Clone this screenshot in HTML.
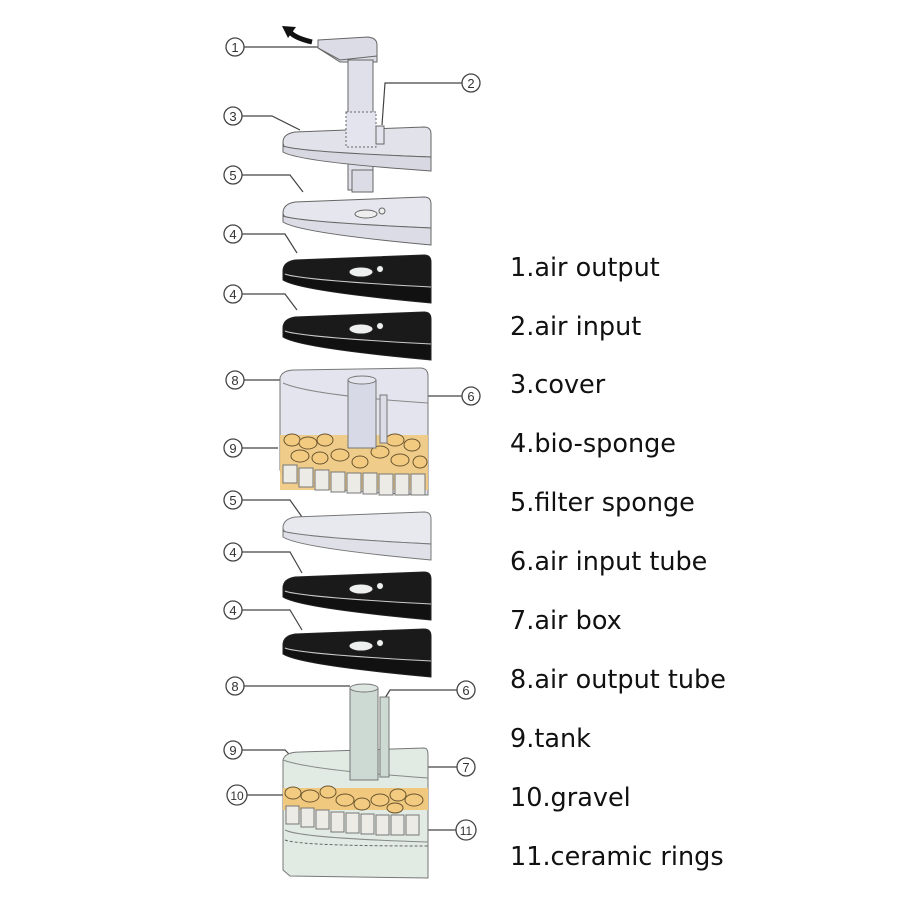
<!DOCTYPE html>
<html><head><style>
html,body{margin:0;padding:0;background:#fff;}
svg{display:block}
.lt{font-family:"DejaVu Sans","Liberation Sans",sans-serif;font-size:25.5px;fill:#111;}
.cn{font-family:"Liberation Sans",sans-serif;font-size:13px;fill:#333;text-anchor:middle;}
</style></head><body>
<svg width="900" height="900" viewBox="0 0 900 900" xmlns="http://www.w3.org/2000/svg">
<rect width="900" height="900" fill="#fff"/>

<g stroke="#444" stroke-width="1.2" fill="none">
<path d="M244,47 L330,47 L335,52"/>
<path d="M462,83 L385,83 L382,125"/>
<path d="M242,116 L272,116 L300,130"/>
<path d="M242,175 L290,175 L303,192"/>
<path d="M242,234 L285,234 L297,253"/>
<path d="M242,294 L285,294 L297,310"/>
<path d="M244,380 L352,380"/>
<path d="M462,396 L385,396"/>
<path d="M242,448 L278,448"/>
<path d="M242,500 L290,500 L302,517"/>
<path d="M242,552 L290,552 L302,573"/>
<path d="M242,610 L290,610 L302,630"/>
<path d="M244,686 L350,686"/>
<path d="M457,690 L390,690 L385,698"/>
<path d="M242,750 L285,750 L290,755"/>
<path d="M457,767 L400,767 L385,780"/>
<path d="M246,795 L290,795"/>
<path d="M457,830 L428,830"/>
</g>
<g fill="#fff" stroke="#444" stroke-width="1.3">
<circle cx="235" cy="47" r="9"/><circle cx="471" cy="83" r="9"/>
<circle cx="233" cy="116" r="9"/><circle cx="233" cy="175" r="9"/>
<circle cx="233" cy="234" r="9"/><circle cx="233" cy="294" r="9"/>
<circle cx="235" cy="380" r="9"/><circle cx="471" cy="396" r="9"/>
<circle cx="233" cy="448" r="9"/><circle cx="233" cy="500" r="9"/>
<circle cx="233" cy="552" r="9"/><circle cx="233" cy="610" r="9"/>
<circle cx="235" cy="686" r="9"/><circle cx="466" cy="690" r="9"/>
<circle cx="233" cy="750" r="9"/><circle cx="466" cy="767" r="9"/>
<circle cx="237" cy="795" r="10"/><circle cx="466" cy="830" r="10"/>
</g>
<g class="cn">
<text x="235" y="52">1</text><text x="471" y="88">2</text>
<text x="233" y="121">3</text><text x="233" y="180">5</text>
<text x="233" y="239">4</text><text x="233" y="299">4</text>
<text x="235" y="385">8</text><text x="471" y="401">6</text>
<text x="233" y="453">9</text><text x="233" y="505">5</text>
<text x="233" y="557">4</text><text x="233" y="615">4</text>
<text x="235" y="691">8</text><text x="466" y="695">6</text>
<text x="233" y="755">9</text><text x="466" y="772">7</text>
<text x="237" y="800" font-size="12">10</text><text x="466" y="835" font-size="12">11</text>
</g>

<path d="M312,42 Q295,38 290,32" stroke="#111" stroke-width="5" fill="none"/>
<path d="M282,26 L296,27 L288,38 Z" fill="#111"/>
<path d="M318,40 L368,37 Q377,38 377,45 L377,62 L340,62 L318,48 Z" fill="#dcdce6" stroke="#666"/>
<path d="M318,48 L340,60 L377,56" stroke="#666" fill="none"/>
<rect x="348" y="60" width="25" height="130" fill="#e0e0ea" stroke="#666"/>
<path d="M283,142 Q283,134 295,132 L424,127 Q431,127 431,134 L431,157 Q300,152 290,150 Q283,148 283,142 Z" fill="#e2e2ea" stroke="#666"/>
<path d="M283,142 L283,152 Q300,162 431,171 L431,157 Q300,152 283,146" fill="#d8d8e2" stroke="#666"/>
<rect x="346" y="112" width="30" height="35" fill="#e4e4ee" stroke="#666" stroke-dasharray="2,2"/>
<rect x="376" y="126" width="8" height="18" fill="#e4e4ee" stroke="#666"/>
<rect x="352" y="170" width="21" height="22" fill="#dcdce6" stroke="#666"/>

<g stroke="#666">
<path d="M283,213 Q283,204 295,202 L424,197 Q431,197 431,204 L431,228 Q300,222 290,219 Q283,217 283,213 Z" fill="#e6e6ee"/>
<path d="M283,213 L283,222 Q300,233 431,245 L431,228 Q300,222 283,216" fill="#dcdce6"/>
<ellipse cx="366" cy="214" rx="11" ry="4" fill="#eee"/><circle cx="382" cy="211" r="3" fill="#eee"/>
</g>
<g stroke="#222">
<path d="M283,271 Q283,262 295,260 L424,255 Q431,255 431,262 L431,287 Q300,280 290,277 Q283,275 283,271 Z" fill="#1a1a1a"/>
<path d="M283,271 L283,280 Q300,291 431,303 L431,287 Q300,280 283,274" fill="#111"/>
<path d="M285,274 Q300,280 431,287" stroke="#ccc" fill="none"/>
<ellipse cx="361" cy="272" rx="12" ry="5" fill="#eef0f0"/><circle cx="380" cy="269" r="3.5" fill="#eef0f0"/>
<path d="M283,328 Q283,319 295,317 L424,312 Q431,312 431,319 L431,344 Q300,337 290,334 Q283,332 283,328 Z" fill="#1a1a1a"/>
<path d="M283,328 L283,337 Q300,348 431,360 L431,344 Q300,337 283,331" fill="#111"/>
<path d="M285,331 Q300,337 431,344" stroke="#ccc" fill="none"/>
<ellipse cx="361" cy="329" rx="12" ry="5" fill="#eef0f0"/><circle cx="380" cy="326" r="3.5" fill="#eef0f0"/>
</g>

<path d="M280,378 Q282,370 295,370 L420,368 Q428,368 428,376 L428,495 Q300,490 285,480 L280,470 Z" fill="#e4e4ee" stroke="#777"/>
<path d="M283,383 Q310,395 428,403" stroke="#888" fill="none"/>
<rect x="280" y="435" width="148" height="55" fill="#f0c97e" opacity="0.9"/>
<g fill="#f3cb80" stroke="#6b5530">
<ellipse cx="292" cy="440" rx="8" ry="6"/><ellipse cx="308" cy="443" rx="9" ry="6"/><ellipse cx="325" cy="440" rx="8" ry="6"/>
<ellipse cx="340" cy="455" rx="9" ry="6"/><ellipse cx="300" cy="456" rx="9" ry="6"/><ellipse cx="320" cy="458" rx="8" ry="6"/>
<ellipse cx="395" cy="440" rx="9" ry="6"/><ellipse cx="412" cy="445" rx="8" ry="6"/><ellipse cx="380" cy="452" rx="9" ry="6"/>
<ellipse cx="360" cy="462" rx="8" ry="6"/><ellipse cx="400" cy="460" rx="9" ry="6"/><ellipse cx="420" cy="462" rx="7" ry="6"/>
</g>
<g fill="#ecebe6" stroke="#777">
<rect x="283" y="465" width="14" height="18"/><rect x="299" y="468" width="14" height="19"/><rect x="315" y="470" width="14" height="20"/>
<rect x="331" y="472" width="14" height="20"/><rect x="347" y="473" width="14" height="20"/><rect x="363" y="473" width="14" height="21"/>
<rect x="379" y="474" width="14" height="21"/><rect x="395" y="474" width="14" height="21"/><rect x="411" y="474" width="14" height="21"/>
</g>
<rect x="348" y="380" width="28" height="68" fill="#d7d9e6" stroke="#777"/>
<ellipse cx="362" cy="380" rx="14" ry="4" fill="#e4e4ee" stroke="#777"/>
<rect x="380" y="395" width="7" height="48" fill="#dcdce6" stroke="#777"/>

<g stroke="#777">
<path d="M283,528 Q283,519 295,517 L424,512 Q431,512 431,519 L431,544 Q300,537 290,534 Q283,532 283,528 Z" fill="#e8e9ef"/>
<path d="M283,528 L283,537 Q300,548 431,560 L431,544 Q300,537 283,531" fill="#dfe0e8"/>
</g>
<g stroke="#222">
<path d="M283,588 Q283,579 295,577 L424,572 Q431,572 431,579 L431,604 Q300,597 290,594 Q283,592 283,588 Z" fill="#1a1a1a"/>
<path d="M283,588 L283,597 Q300,608 431,620 L431,604 Q300,597 283,591" fill="#111"/>
<path d="M285,591 Q300,597 431,604" stroke="#ccc" fill="none"/>
<ellipse cx="361" cy="589" rx="12" ry="5" fill="#eef0f0"/><circle cx="380" cy="586" r="3.5" fill="#eef0f0"/>
<path d="M283,645 Q283,636 295,634 L424,629 Q431,629 431,636 L431,661 Q300,654 290,651 Q283,649 283,645 Z" fill="#1a1a1a"/>
<path d="M283,645 L283,654 Q300,665 431,677 L431,661 Q300,654 283,648" fill="#111"/>
<path d="M285,648 Q300,654 431,661" stroke="#ccc" fill="none"/>
<ellipse cx="361" cy="646" rx="12" ry="5" fill="#eef0f0"/><circle cx="380" cy="643" r="3.5" fill="#eef0f0"/>
</g>

<path d="M283,760 Q285,752 300,752 L424,748 Q428,748 428,755 L428,878 L290,876 L283,870 Z" fill="#e1ebe4" stroke="#777"/>
<path d="M283,760 Q310,770 428,778" stroke="#888" fill="none"/>
<rect x="350" y="688" width="28" height="92" fill="#cdd9d3" stroke="#777"/>
<ellipse cx="364" cy="688" rx="14" ry="4" fill="#dde6e0" stroke="#777"/>
<rect x="380" y="697" width="9" height="80" fill="#cdd9d3" stroke="#777"/>
<rect x="283" y="788" width="145" height="22" fill="#f0c97e"/>
<g fill="#f3cb80" stroke="#6b5530">
<ellipse cx="293" cy="793" rx="8" ry="6"/><ellipse cx="310" cy="796" rx="9" ry="6"/><ellipse cx="328" cy="792" rx="8" ry="6"/>
<ellipse cx="345" cy="800" rx="9" ry="6"/><ellipse cx="362" cy="804" rx="8" ry="6"/><ellipse cx="380" cy="800" rx="9" ry="6"/>
<ellipse cx="398" cy="795" rx="8" ry="6"/><ellipse cx="414" cy="800" rx="9" ry="6"/><ellipse cx="395" cy="808" rx="8" ry="5"/>
</g>
<g fill="#ecebe6" stroke="#777">
<rect x="286" y="806" width="13" height="18"/><rect x="301" y="808" width="13" height="19"/><rect x="316" y="810" width="13" height="19"/>
<rect x="331" y="812" width="13" height="20"/><rect x="346" y="813" width="13" height="20"/><rect x="361" y="814" width="13" height="20"/>
<rect x="376" y="815" width="13" height="20"/><rect x="391" y="815" width="13" height="20"/><rect x="406" y="815" width="13" height="20"/>
</g>
<path d="M285,830 Q300,838 428,842" stroke="#888" fill="none"/>
<path d="M285,840 Q300,846 428,846" stroke="#666" stroke-dasharray="3,2" fill="none"/>

<g class="lt">
<text x="510" y="276">1.air output</text>
<text x="510" y="335">2.air input</text>
<text x="510" y="393">3.cover</text>
<text x="510" y="452">4.bio-sponge</text>
<text x="510" y="511">5.filter sponge</text>
<text x="510" y="570">6.air input tube</text>
<text x="510" y="629">7.air box</text>
<text x="510" y="688">8.air output tube</text>
<text x="510" y="747">9.tank</text>
<text x="510" y="806">10.gravel</text>
<text x="510" y="865">11.ceramic rings</text>
</g>
</svg>
</body></html>
